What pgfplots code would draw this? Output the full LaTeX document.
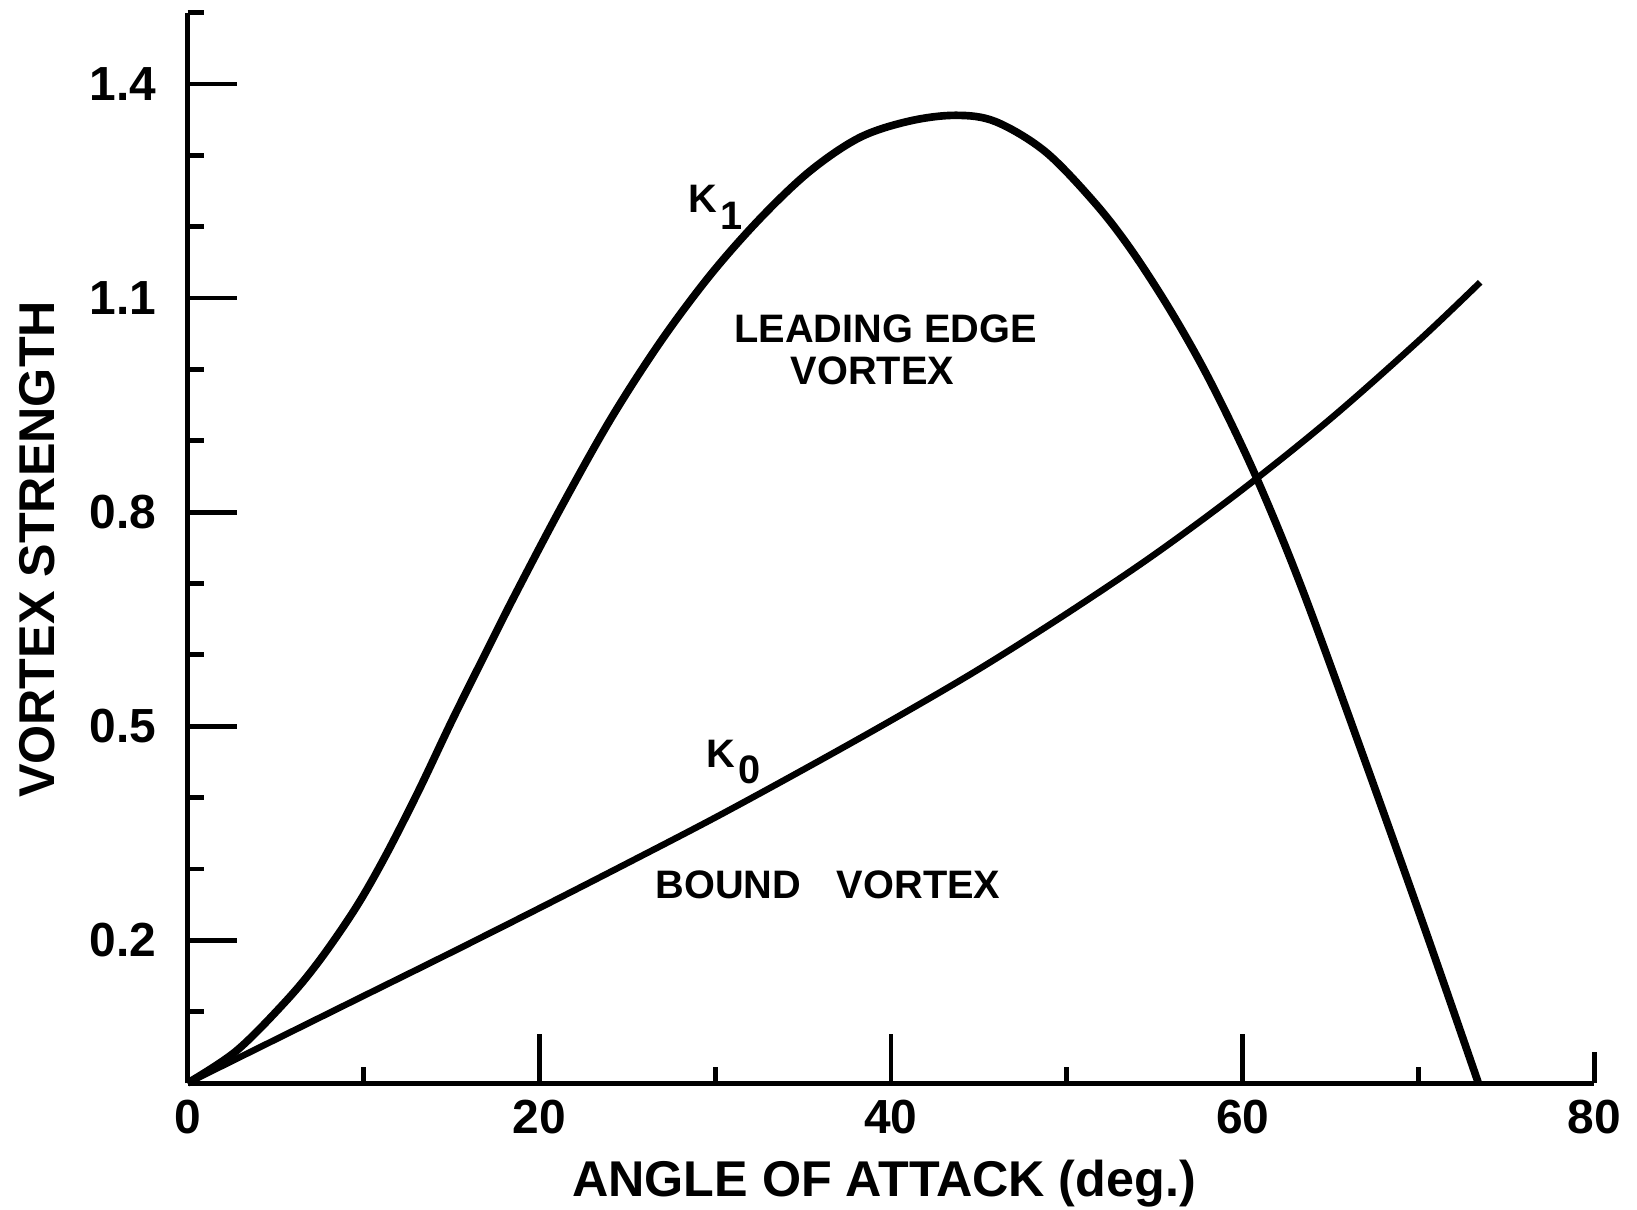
\documentclass[border=0pt]{standalone}
\usepackage{fontspec}
\setmainfont{Liberation Sans}
\usepackage{pgfplots}
\pgfplotsset{compat=1.18}

\begin{document}
\begin{tikzpicture}
\begin{axis}[
    scale only axis,
    width=10.33cm, height=7.86cm,
    xmin=0, xmax=80, ymin=0, ymax=1.5,
    axis x line*=bottom, axis y line*=left,
    axis line style={line width=1.05pt},
    tick align=inside,
    xtick={0,20,40,60}, xticklabels={0,20,40,60},
    extra x ticks={80}, extra x tick labels={80},
    extra x tick style={major tick length=0.23cm},
    minor xtick={10,30,50,70},
    ytick={0.2,0.5,0.8,1.1,1.4}, yticklabels={0.2,0.5,0.8,1.1,1.4},
    minor ytick={0.1,0.3,0.4,0.6,0.7,0.9,1.0,1.2,1.3,1.5},
    major tick length=0.36cm, minor tick length=0.12cm,
    every tick/.style={black, line width=1pt},
    tick label style={font=\fontsize{10}{12}\selectfont\bfseries},
    yticklabel style={xshift=-3pt},
    clip=false,
]
% K1, leading edge vortex
\addplot[line width=1.6pt, smooth, tension=0.55] coordinates {
    (0,0) (2.77,0.045) (5.6,0.115) (7.48,0.171) (9.55,0.245) (11.25,0.318)
    (13.13,0.409) (15.02,0.507) (16.9,0.600) (18.64,0.685) (21.27,0.808)
    (24.10,0.932) (26.93,1.040) (29.75,1.133) (32.58,1.212) (35.40,1.278)
    (38.23,1.325) (41.06,1.348) (43.7,1.356) (45.96,1.347) (48.78,1.305)
    (51.6,1.233) (53.7,1.166) (56.0,1.078) (58.2,0.981) (60.75,0.850)
    (63.4,0.691) (66.9,0.455) (70.3,0.220) (73.4,0)
};
% K0, bound vortex
\addplot[line width=1.35pt, smooth, tension=0.55] coordinates {
    (0,0) (5,0.061) (10,0.122) (15,0.183) (20,0.245) (25,0.308)
    (30,0.372) (35,0.439) (40,0.508) (45,0.580) (50,0.658) (55,0.741)
    (60,0.832) (65,0.931) (70,1.040) (73.5,1.122)
};

\tikzset{lbl/.style={inner sep=0pt, font=\fontsize{8.3}{9}\selectfont\bfseries}}
\node[lbl, anchor=base west] at (axis cs:28.43,1.2195)
    {K\hspace{0.08em}\raisebox{-3.4pt}{1}};
\node[lbl, anchor=base west] at (axis cs:29.47,0.4415)
    {K\hspace{0.08em}\raisebox{-3.2pt}{0}};
\node[lbl, anchor=base] at (axis cs:39.69,1.037) {LEADING EDGE};
\node[lbl, anchor=base] at (axis cs:38.94,0.979) {VORTEX};
\node[lbl, anchor=base west] at (axis cs:26.55,0.259)
    {BOUND\hspace{7.5pt}VORTEX};

\node[inner sep=0pt, anchor=base, font=\fontsize{10.5}{12}\selectfont\bfseries]
    at (rel axis cs:0.495,-0.1061) {ANGLE OF ATTACK (deg.)};
\node[inner sep=0pt, anchor=base, rotate=90, font=\fontsize{10.5}{12}\selectfont\bfseries]
    at (rel axis cs:-0.0948,0.4985) {VORTEX STRENGTH};

\path (rel axis cs:-0.1333,-0.1178) rectangle (rel axis cs:1.0281,1.0117);
\end{axis}
\end{tikzpicture}
\end{document}
